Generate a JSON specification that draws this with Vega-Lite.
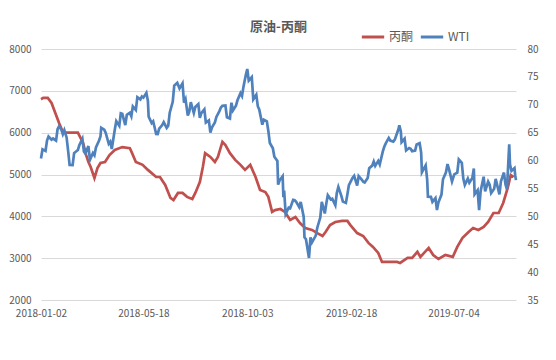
{
"$schema": "https://vega.github.io/schema/vega-lite/v6.json",
"width": 475, "height": 251,
"autosize": {"type": "none"},
"padding": {"left": 41, "top": 49, "right": 40, "bottom": 60},
"background": "white",
"title": {"text": "原油-丙酮", "fontSize": 13, "fontWeight": "bold", "color": "#595959", "font": "Noto Sans CJK SC", "anchor": "middle", "frame": "group", "offset": 4, "dy": 14},
"config": {
  "view": {"stroke": null},
  "axis": {"labelFont": "Noto Sans CJK SC", "labelFontSize": 10, "labelColor": "#595959", "domain": false, "ticks": false, "title": null},
  "legend": {"labelFont": "Noto Sans CJK SC"}
},
"layer": [
 {
  "data": {"values": [
{"date":"2018-01-02","value":6800},{"date":"2018-01-05","value":6830},{"date":"2018-01-11","value":6830},{"date":"2018-01-16","value":6710},{"date":"2018-01-21","value":6470},{"date":"2018-01-26","value":6230},{"date":"2018-01-31","value":6015},{"date":"2018-02-05","value":6000},{"date":"2018-02-20","value":6000},{"date":"2018-02-23","value":5895},{"date":"2018-02-27","value":5750},{"date":"2018-03-03","value":5465},{"date":"2018-03-06","value":5300},{"date":"2018-03-09","value":5180},{"date":"2018-03-14","value":4915},{"date":"2018-03-18","value":5155},{"date":"2018-03-22","value":5275},{"date":"2018-03-28","value":5300},{"date":"2018-04-03","value":5465},{"date":"2018-04-10","value":5585},{"date":"2018-04-20","value":5655},{"date":"2018-04-30","value":5630},{"date":"2018-05-03","value":5510},{"date":"2018-05-08","value":5300},{"date":"2018-05-17","value":5230},{"date":"2018-05-24","value":5110},{"date":"2018-06-04","value":4940},{"date":"2018-06-09","value":4940},{"date":"2018-06-16","value":4750},{"date":"2018-06-23","value":4440},{"date":"2018-06-27","value":4390},{"date":"2018-07-03","value":4560},{"date":"2018-07-09","value":4560},{"date":"2018-07-15","value":4465},{"date":"2018-07-22","value":4415},{"date":"2018-07-26","value":4560},{"date":"2018-08-01","value":4820},{"date":"2018-08-05","value":5180},{"date":"2018-08-08","value":5510},{"date":"2018-08-15","value":5420},{"date":"2018-08-21","value":5300},{"date":"2018-08-25","value":5420},{"date":"2018-08-31","value":5780},{"date":"2018-09-04","value":5705},{"date":"2018-09-10","value":5510},{"date":"2018-09-17","value":5350},{"date":"2018-09-24","value":5230},{"date":"2018-09-30","value":5110},{"date":"2018-10-07","value":5230},{"date":"2018-10-14","value":4940},{"date":"2018-10-20","value":4630},{"date":"2018-10-27","value":4580},{"date":"2018-10-31","value":4465},{"date":"2018-11-05","value":4105},{"date":"2018-11-09","value":4150},{"date":"2018-11-16","value":4175},{"date":"2018-11-22","value":4105},{"date":"2018-11-29","value":3915},{"date":"2018-12-06","value":3985},{"date":"2018-12-12","value":3840},{"date":"2018-12-19","value":3720},{"date":"2018-12-28","value":3675},{"date":"2019-01-04","value":3600},{"date":"2019-01-11","value":3530},{"date":"2019-01-15","value":3625},{"date":"2019-01-21","value":3790},{"date":"2019-01-28","value":3865},{"date":"2019-02-06","value":3890},{"date":"2019-02-13","value":3890},{"date":"2019-02-17","value":3790},{"date":"2019-02-26","value":3600},{"date":"2019-03-06","value":3530},{"date":"2019-03-13","value":3365},{"date":"2019-03-19","value":3270},{"date":"2019-03-26","value":3125},{"date":"2019-03-31","value":2910},{"date":"2019-04-20","value":2910},{"date":"2019-04-24","value":2885},{"date":"2019-05-04","value":3005},{"date":"2019-05-10","value":3005},{"date":"2019-05-17","value":3150},{"date":"2019-05-21","value":3030},{"date":"2019-06-01","value":3245},{"date":"2019-06-07","value":3075},{"date":"2019-06-14","value":2980},{"date":"2019-06-23","value":3075},{"date":"2019-07-03","value":3030},{"date":"2019-07-09","value":3270},{"date":"2019-07-16","value":3485},{"date":"2019-07-24","value":3625},{"date":"2019-07-30","value":3720},{"date":"2019-08-06","value":3675},{"date":"2019-08-13","value":3745},{"date":"2019-08-19","value":3865},{"date":"2019-08-26","value":4080},{"date":"2019-09-02","value":4080},{"date":"2019-09-08","value":4320},{"date":"2019-09-14","value":4680},{"date":"2019-09-18","value":4990},{"date":"2019-09-22","value":4940}
  ]},
  "mark": {"type": "line", "strokeWidth": 2.7},
  "encoding": {
   "x": {"field": "date", "type": "temporal",
     "scale": {"type": "utc", "domain": [{"year": 2018, "month": 1, "date": 2, "utc": true}, {"year": 2019, "month": 9, "date": 25, "utc": true}]},
     "axis": {"labelExpr": "utcFormat(datum.value, '%Y-%m-%d')", "grid": false, "labelPadding": 8, "labelAngle": 0, "labelFlush": false,
       "values": [{"year": 2018, "month": 1, "date": 2, "utc": true}, {"year": 2018, "month": 5, "date": 18, "utc": true}, {"year": 2018, "month": 10, "date": 3, "utc": true}, {"year": 2019, "month": 2, "date": 18, "utc": true}, {"year": 2019, "month": 7, "date": 4, "utc": true}]}},
   "y": {"field": "value", "type": "quantitative", "scale": {"domain": [2000, 8000], "nice": false, "zero": false},
     "axis": {"orient": "left", "values": [2000, 3000, 4000, 5000, 6000, 7000, 8000], "format": "d", "grid": true, "gridColor": "#D9D9D9", "gridWidth": 1, "labelPadding": 10}},
   "color": {"datum": "丙酮", "type": "nominal",
     "scale": {"domain": ["丙酮", "WTI"], "range": ["#C0504D", "#4F81BD"]},
     "legend": {"title": null, "orient": "none", "legendX": 319, "legendY": -25, "direction": "horizontal", "symbolType": "stroke", "symbolStrokeWidth": 3, "symbolSize": 500, "labelFontSize": 12, "labelColor": "#595959", "labelOffset": 3, "columnPadding": 0}}
  }
 },
 {
  "data": {"values": [
{"date":"2018-01-02","value":60.37},{"date":"2018-01-04","value":62.01},{"date":"2018-01-08","value":61.73},{"date":"2018-01-10","value":63.57},{"date":"2018-01-12","value":64.30},{"date":"2018-01-16","value":63.73},{"date":"2018-01-18","value":63.95},{"date":"2018-01-22","value":63.57},{"date":"2018-01-24","value":65.61},{"date":"2018-01-26","value":66.14},{"date":"2018-01-29","value":65.56},{"date":"2018-01-31","value":64.73},{"date":"2018-02-02","value":65.45},{"date":"2018-02-05","value":64.15},{"date":"2018-02-07","value":61.79},{"date":"2018-02-09","value":59.20},{"date":"2018-02-13","value":59.19},{"date":"2018-02-15","value":61.34},{"date":"2018-02-20","value":61.90},{"date":"2018-02-22","value":62.77},{"date":"2018-02-26","value":63.91},{"date":"2018-02-28","value":61.64},{"date":"2018-03-02","value":61.25},{"date":"2018-03-06","value":62.60},{"date":"2018-03-08","value":60.12},{"date":"2018-03-12","value":61.36},{"date":"2018-03-14","value":60.96},{"date":"2018-03-16","value":62.34},{"date":"2018-03-20","value":63.54},{"date":"2018-03-22","value":64.30},{"date":"2018-03-23","value":65.88},{"date":"2018-03-27","value":65.55},{"date":"2018-03-29","value":64.94},{"date":"2018-04-02","value":63.01},{"date":"2018-04-04","value":63.37},{"date":"2018-04-06","value":62.06},{"date":"2018-04-10","value":65.51},{"date":"2018-04-12","value":67.07},{"date":"2018-04-16","value":66.22},{"date":"2018-04-18","value":68.47},{"date":"2018-04-20","value":68.38},{"date":"2018-04-24","value":66.36},{"date":"2018-04-26","value":68.19},{"date":"2018-04-30","value":68.57},{"date":"2018-05-02","value":67.93},{"date":"2018-05-04","value":69.72},{"date":"2018-05-08","value":69.06},{"date":"2018-05-10","value":71.36},{"date":"2018-05-14","value":70.96},{"date":"2018-05-16","value":71.49},{"date":"2018-05-18","value":71.28},{"date":"2018-05-22","value":72.13},{"date":"2018-05-24","value":70.71},{"date":"2018-05-25","value":67.88},{"date":"2018-05-29","value":66.73},{"date":"2018-05-31","value":67.04},{"date":"2018-06-04","value":64.75},{"date":"2018-06-06","value":64.73},{"date":"2018-06-08","value":65.74},{"date":"2018-06-12","value":66.36},{"date":"2018-06-14","value":66.89},{"date":"2018-06-18","value":65.85},{"date":"2018-06-20","value":66.22},{"date":"2018-06-22","value":68.58},{"date":"2018-06-26","value":70.53},{"date":"2018-06-28","value":73.45},{"date":"2018-07-02","value":73.94},{"date":"2018-07-05","value":72.94},{"date":"2018-07-09","value":73.85},{"date":"2018-07-11","value":70.38},{"date":"2018-07-13","value":71.01},{"date":"2018-07-16","value":68.06},{"date":"2018-07-18","value":68.76},{"date":"2018-07-20","value":70.46},{"date":"2018-07-24","value":68.52},{"date":"2018-07-26","value":69.61},{"date":"2018-07-30","value":70.13},{"date":"2018-08-01","value":67.66},{"date":"2018-08-03","value":68.49},{"date":"2018-08-07","value":69.17},{"date":"2018-08-09","value":66.81},{"date":"2018-08-13","value":67.20},{"date":"2018-08-15","value":65.01},{"date":"2018-08-17","value":65.91},{"date":"2018-08-21","value":66.84},{"date":"2018-08-23","value":67.83},{"date":"2018-08-27","value":68.87},{"date":"2018-08-29","value":69.51},{"date":"2018-08-31","value":69.80},{"date":"2018-09-04","value":69.87},{"date":"2018-09-06","value":67.77},{"date":"2018-09-10","value":67.54},{"date":"2018-09-12","value":70.37},{"date":"2018-09-14","value":68.99},{"date":"2018-09-18","value":69.85},{"date":"2018-09-20","value":70.80},{"date":"2018-09-24","value":72.08},{"date":"2018-09-26","value":71.57},{"date":"2018-09-28","value":73.25},{"date":"2018-10-01","value":75.30},{"date":"2018-10-03","value":76.41},{"date":"2018-10-05","value":74.34},{"date":"2018-10-09","value":74.96},{"date":"2018-10-11","value":70.97},{"date":"2018-10-15","value":71.78},{"date":"2018-10-17","value":69.75},{"date":"2018-10-19","value":69.12},{"date":"2018-10-23","value":66.43},{"date":"2018-10-25","value":67.33},{"date":"2018-10-29","value":67.04},{"date":"2018-10-31","value":65.31},{"date":"2018-11-02","value":63.14},{"date":"2018-11-06","value":62.21},{"date":"2018-11-08","value":60.67},{"date":"2018-11-12","value":59.93},{"date":"2018-11-13","value":55.69},{"date":"2018-11-15","value":56.46},{"date":"2018-11-19","value":57.20},{"date":"2018-11-20","value":53.43},{"date":"2018-11-21","value":54.63},{"date":"2018-11-23","value":50.42},{"date":"2018-11-27","value":51.56},{"date":"2018-11-29","value":51.45},{"date":"2018-12-03","value":52.95},{"date":"2018-12-05","value":52.89},{"date":"2018-12-07","value":52.61},{"date":"2018-12-11","value":51.65},{"date":"2018-12-13","value":52.58},{"date":"2018-12-17","value":49.88},{"date":"2018-12-18","value":46.24},{"date":"2018-12-20","value":45.88},{"date":"2018-12-24","value":42.53},{"date":"2018-12-26","value":46.22},{"date":"2018-12-28","value":45.33},{"date":"2019-01-02","value":46.54},{"date":"2019-01-04","value":47.96},{"date":"2019-01-08","value":49.78},{"date":"2019-01-10","value":52.59},{"date":"2019-01-14","value":50.51},{"date":"2019-01-16","value":52.31},{"date":"2019-01-18","value":53.80},{"date":"2019-01-22","value":53.01},{"date":"2019-01-24","value":53.13},{"date":"2019-01-28","value":51.99},{"date":"2019-01-30","value":54.23},{"date":"2019-02-01","value":55.26},{"date":"2019-02-05","value":53.66},{"date":"2019-02-07","value":52.64},{"date":"2019-02-11","value":52.41},{"date":"2019-02-13","value":53.90},{"date":"2019-02-15","value":55.59},{"date":"2019-02-20","value":56.92},{"date":"2019-02-22","value":57.26},{"date":"2019-02-26","value":55.50},{"date":"2019-02-28","value":57.22},{"date":"2019-03-04","value":56.59},{"date":"2019-03-06","value":56.22},{"date":"2019-03-08","value":56.07},{"date":"2019-03-12","value":56.87},{"date":"2019-03-14","value":58.61},{"date":"2019-03-18","value":59.09},{"date":"2019-03-20","value":59.83},{"date":"2019-03-22","value":59.04},{"date":"2019-03-26","value":59.94},{"date":"2019-03-28","value":59.30},{"date":"2019-04-01","value":61.59},{"date":"2019-04-03","value":62.46},{"date":"2019-04-05","value":63.08},{"date":"2019-04-09","value":64.05},{"date":"2019-04-11","value":63.58},{"date":"2019-04-15","value":63.40},{"date":"2019-04-17","value":63.76},{"date":"2019-04-22","value":65.70},{"date":"2019-04-23","value":66.30},{"date":"2019-04-25","value":65.21},{"date":"2019-04-26","value":63.30},{"date":"2019-04-30","value":63.91},{"date":"2019-05-02","value":61.81},{"date":"2019-05-06","value":62.25},{"date":"2019-05-08","value":62.12},{"date":"2019-05-10","value":61.66},{"date":"2019-05-14","value":61.78},{"date":"2019-05-16","value":62.87},{"date":"2019-05-20","value":63.10},{"date":"2019-05-22","value":61.42},{"date":"2019-05-23","value":57.91},{"date":"2019-05-28","value":59.14},{"date":"2019-05-30","value":56.59},{"date":"2019-05-31","value":53.50},{"date":"2019-06-04","value":53.48},{"date":"2019-06-06","value":52.59},{"date":"2019-06-10","value":53.26},{"date":"2019-06-12","value":51.14},{"date":"2019-06-14","value":52.51},{"date":"2019-06-18","value":53.90},{"date":"2019-06-20","value":56.65},{"date":"2019-06-24","value":57.90},{"date":"2019-06-26","value":59.38},{"date":"2019-06-28","value":58.47},{"date":"2019-07-02","value":56.25},{"date":"2019-07-05","value":57.51},{"date":"2019-07-09","value":57.83},{"date":"2019-07-11","value":60.20},{"date":"2019-07-15","value":59.58},{"date":"2019-07-17","value":56.78},{"date":"2019-07-19","value":55.63},{"date":"2019-07-23","value":56.77},{"date":"2019-07-25","value":56.02},{"date":"2019-07-29","value":56.87},{"date":"2019-07-31","value":58.58},{"date":"2019-08-01","value":53.95},{"date":"2019-08-05","value":54.69},{"date":"2019-08-07","value":51.09},{"date":"2019-08-09","value":54.50},{"date":"2019-08-13","value":57.10},{"date":"2019-08-15","value":54.47},{"date":"2019-08-19","value":56.21},{"date":"2019-08-21","value":55.68},{"date":"2019-08-23","value":54.17},{"date":"2019-08-27","value":54.93},{"date":"2019-08-29","value":56.71},{"date":"2019-09-03","value":53.94},{"date":"2019-09-05","value":56.30},{"date":"2019-09-09","value":57.85},{"date":"2019-09-11","value":55.75},{"date":"2019-09-13","value":54.85},{"date":"2019-09-16","value":62.90},{"date":"2019-09-17","value":59.34},{"date":"2019-09-19","value":58.13},{"date":"2019-09-23","value":58.64},{"date":"2019-09-24","value":57.29},{"date":"2019-09-25","value":56.49}
  ]},
  "mark": {"type": "line", "strokeWidth": 2.7},
  "encoding": {
   "x": {"field": "date", "type": "temporal",
     "axis": {"labelExpr": "utcFormat(datum.value, '%Y-%m-%d')", "grid": false, "labelPadding": 8, "labelAngle": 0, "labelFlush": false,
       "values": [{"year": 2018, "month": 1, "date": 2, "utc": true}, {"year": 2018, "month": 5, "date": 18, "utc": true}, {"year": 2018, "month": 10, "date": 3, "utc": true}, {"year": 2019, "month": 2, "date": 18, "utc": true}, {"year": 2019, "month": 7, "date": 4, "utc": true}]}},
   "y": {"field": "value", "type": "quantitative", "scale": {"domain": [35, 80], "nice": false, "zero": false},
     "axis": {"orient": "right", "values": [35, 40, 45, 50, 55, 60, 65, 70, 75, 80], "grid": false, "labelPadding": 11}},
   "color": {"datum": "WTI", "type": "nominal"}
  }
 }
],
"resolve": {"scale": {"y": "independent"}}
}
